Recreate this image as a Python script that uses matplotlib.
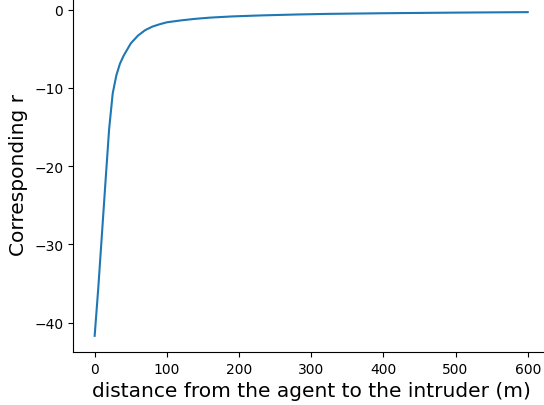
import matplotlib
matplotlib.use("Agg")
import matplotlib.pyplot as plt

# distance (m) and the corresponding r
distance = [0, 5, 10, 15, 20, 25, 30, 35, 40, 50, 60, 70, 80, 90, 100,
            120, 140, 160, 190, 230, 280, 325, 400, 500, 600]
r_value = [-41.7, -35.6, -28.8, -22.0, -15.3, -10.7, -8.4, -6.9, -5.9, -4.3,
           -3.3, -2.6, -2.15, -1.85, -1.6, -1.35, -1.15, -1.0, -0.85, -0.72,
           -0.6, -0.52, -0.44, -0.36, -0.30]

fig = plt.figure(figsize=(5.44, 4.06), dpi=100)
ax = fig.add_axes([0.1342, 0.1305, 0.8757, 0.877])

ax.plot(distance, r_value, color="#1f77b4")

ax.set_xticks([0, 100, 200, 300, 400, 500, 600])
ax.set_yticks([0, -10, -20, -30, -40])
ax.set_xlabel("distance from the agent to the intruder (m)", fontsize=14.5)
ax.set_ylabel("Corresponding r", fontsize=14.5)

ax.spines["top"].set_visible(False)
ax.spines["right"].set_visible(False)

fig.savefig("out.png", dpi=100)
